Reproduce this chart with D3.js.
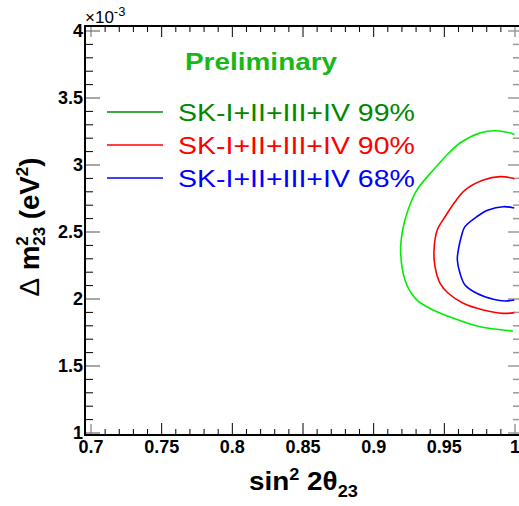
<!DOCTYPE html>
<html>
<head>
<meta charset="utf-8">
<script src="https://cdn.jsdelivr.net/npm/d3@7"></script>
<style>
  html, body { margin: 0; padding: 0; background: #fff; }
  svg { display: block; }
  text { font-family: "Liberation Sans", Arial, Helvetica, sans-serif; }
</style>
</head>
<body>
<div id="chart"></div>
<script>
// ---------- data ----------
const xTicks = [0.7, 0.75, 0.8, 0.85, 0.9, 0.95, 1];
const xTickLabels = ["0.7", "0.75", "0.8", "0.85", "0.9", "0.95", "1"];
const yTicks = [1, 1.5, 2, 2.5, 3, 3.5, 4];
const yTickLabels = ["1", "1.5", "2", "2.5", "3", "3.5", "4"];

const legendLabels = ["SK-I+II+III+IV 99%", "SK-I+II+III+IV 90%", "SK-I+II+III+IV 68%"];

// contour points [sin^2 2theta, dm^2 (1e-3 eV^2)]
const contour99 = [
  [0.9995, 3.225], [0.9988, 3.231], [0.9859, 3.256], [0.9752, 3.239], [0.9611, 3.164],
  [0.9505, 3.060], [0.9411, 2.950], [0.9305, 2.813], [0.9243, 2.664], [0.9205, 2.515],
  [0.9191, 2.343], [0.9229, 2.119], [0.9305, 1.993], [0.9420, 1.918], [0.9561, 1.858],
  [0.9752, 1.793], [0.9986, 1.761]
];
const contour90 = [
  [0.9995, 2.898], [0.9986, 2.901], [0.9894, 2.913], [0.9776, 2.888], [0.9646, 2.813],
  [0.9576, 2.726], [0.9505, 2.614], [0.9450, 2.515], [0.9427, 2.366], [0.9434, 2.241],
  [0.9470, 2.117], [0.9528, 2.043], [0.9634, 1.968], [0.9776, 1.918], [0.9917, 1.893],
  [0.9995, 1.898]
];
const contour68 = [
  [0.9995, 2.679], [0.9988, 2.681], [0.9917, 2.689], [0.9811, 2.664], [0.9729, 2.614],
  [0.9646, 2.540], [0.9623, 2.478], [0.9599, 2.366], [0.9592, 2.291], [0.9611, 2.192],
  [0.9646, 2.105], [0.9729, 2.043], [0.9847, 1.998], [0.9929, 1.985], [0.9995, 1.993]
];

const contours = [contour99, contour90, contour68];
const contourColors = ["#00ee00", "#ff0000", "#0000ff"];
const legendColors = ["#008800", "#ff0000", "#0000ff"];

// ---------- layout ----------
const W = 519, H = 506;
const svg = d3.select("#chart").append("svg").attr("width", W).attr("height", H);
svg.append("rect").attr("width", W).attr("height", H).attr("fill", "#fff");

const x = d3.scaleLinear().domain([0.7, 1]).range([91, 515]);
const y = d3.scaleLinear().domain([1, 4]).range([433, 31]);

const axL = 85, axT = 26, axB = 435, axR = 519;

// minor tick values
const xMinor = d3.range(0, 31).map(i => 0.7 + i * 0.01).filter(v => Math.abs(Math.round(v * 20) - v * 20) > 1e-6);
const yMinor = d3.range(0, 31).map(i => 1 + i * 0.1).filter(v => Math.abs(Math.round(v * 2) - v * 2) > 1e-6);

const g = svg.append("g");

// gray frame ticks (right side + corners)
const gray = "#9a9a9a";
g.selectAll(".rmaj").data(yTicks).enter().append("line")
  .attr("x1", axR - 11).attr("x2", axR).attr("y1", d => y(d)).attr("y2", d => y(d))
  .attr("stroke", gray).attr("stroke-width", 1.5);
g.selectAll(".rmin").data(yMinor).enter().append("line")
  .attr("x1", axR - 6).attr("x2", axR).attr("y1", d => y(d)).attr("y2", d => y(d))
  .attr("stroke", gray).attr("stroke-width", 1.5);
[0.7, 1].forEach(v => {
  g.append("line").attr("x1", x(v)).attr("x2", x(v)).attr("y1", axT).attr("y2", axT + 11)
    .attr("stroke", gray).attr("stroke-width", 1.5);
  g.append("line").attr("x1", x(v)).attr("x2", x(v)).attr("y1", axB - 11).attr("y2", axB)
    .attr("stroke", gray).attr("stroke-width", 1.5);
});

// black ticks: bottom (pointing up)
g.selectAll(".bmaj").data(xTicks.slice(1, -1)).enter().append("line")
  .attr("x1", d => x(d)).attr("x2", d => x(d)).attr("y1", axB).attr("y2", axB - 12)
  .attr("stroke", "#000").attr("stroke-width", 1);
g.selectAll(".bmin").data(xMinor).enter().append("line")
  .attr("x1", d => x(d)).attr("x2", d => x(d)).attr("y1", axB).attr("y2", axB - 6)
  .attr("stroke", "#000").attr("stroke-width", 1);
// top (pointing down)
g.selectAll(".tmaj").data(xTicks.slice(1, -1)).enter().append("line")
  .attr("x1", d => x(d)).attr("x2", d => x(d)).attr("y1", axT).attr("y2", axT + 11)
  .attr("stroke", "#000").attr("stroke-width", 1);
g.selectAll(".tmin").data(xMinor).enter().append("line")
  .attr("x1", d => x(d)).attr("x2", d => x(d)).attr("y1", axT).attr("y2", axT + 6)
  .attr("stroke", "#000").attr("stroke-width", 1);
// left (pointing right)
g.selectAll(".lmaj").data(yTicks).enter().append("line")
  .attr("x1", axL).attr("x2", axL + 15).attr("y1", d => y(d)).attr("y2", d => y(d))
  .attr("stroke", "#777").attr("stroke-width", 1.3);
g.selectAll(".lmin").data(yMinor).enter().append("line")
  .attr("x1", axL).attr("x2", axL + 8).attr("y1", d => y(d)).attr("y2", d => y(d))
  .attr("stroke", "#000").attr("stroke-width", 1);

// axis lines
g.append("line").attr("x1", axL).attr("x2", axL).attr("y1", axT - 1).attr("y2", axB + 1)
  .attr("stroke", "#000").attr("stroke-width", 2);
g.append("line").attr("x1", axL - 1).attr("x2", axR).attr("y1", axB).attr("y2", axB)
  .attr("stroke", "#000").attr("stroke-width", 2);
g.append("line").attr("x1", axL - 1).attr("x2", axR).attr("y1", axT).attr("y2", axT)
  .attr("stroke", "#000").attr("stroke-width", 2);

// tick labels
g.selectAll(".xl").data(xTicks).enter().append("text")
  .attr("x", d => x(d)).attr("y", 453).attr("text-anchor", "middle")
  .attr("font-size", 18).attr("font-weight", "bold")
  .text((d, i) => xTickLabels[i]);
g.selectAll(".yl").data(yTicks).enter().append("text")
  .attr("x", 83).attr("y", d => y(d)).attr("dy", "0.36em").attr("text-anchor", "end")
  .attr("font-size", 18).attr("font-weight", "bold")
  .text((d, i) => yTickLabels[i]);

// exponent label
const ex = g.append("text").attr("x", 85).attr("y", 22.5).attr("font-size", 17);
ex.append("tspan").text("×10");
ex.append("tspan").attr("dy", -7).attr("font-size", 13).text("-3");

// helper to stretch text horizontally to a target width
function stretch(sel, x0, targetW) {
  const w = sel.node().getBBox().width;
  const s = targetW / w;
  sel.attr("transform", `translate(${x0},0) scale(${s},1) translate(${-x0},0)`);
}

// contours
const line = d3.line().x(d => x(d[0])).y(d => y(d[1])).curve(d3.curveCatmullRom.alpha(0.5));
const plot = svg.append("g");
contours.forEach((c, i) => {
  plot.append("path").attr("d", line(c)).attr("fill", "none")
    .attr("stroke", contourColors[i]).attr("stroke-width", 1.6);
});

// Preliminary
const pre = svg.append("text").attr("x", 185).attr("y", 70)
  .attr("font-size", 24).attr("font-weight", "bold").attr("fill", "#18b818")
  .text("Preliminary");
stretch(pre, 185, 153);

// legend
const legY = [112, 145, 178];
legendLabels.forEach((lab, i) => {
  svg.append("line").attr("x1", 107).attr("x2", 163).attr("y1", legY[i]).attr("y2", legY[i])
    .attr("stroke", legendColors[i]).attr("stroke-width", 1.5);
  const t = svg.append("text").attr("x", 178).attr("y", legY[i] + 9)
    .attr("font-size", 24).attr("fill", legendColors[i]).text(lab);
  stretch(t, 178, 237);
});

// x title
const xt = svg.append("text").attr("x", 249).attr("y", 490)
  .attr("font-size", 26).attr("font-weight", "bold");
xt.append("tspan").text("sin");
xt.append("tspan").attr("dy", -10).attr("font-size", 17).text("2");
xt.append("tspan").attr("dy", 10).text(" 2θ");
xt.append("tspan").attr("dy", 7).attr("font-size", 17).text("23");
stretch(xt, 249, 109);

// y title (rotated)
const yg = svg.append("g").attr("transform", "translate(39,227) rotate(-90)");
const yt = yg.append("text").attr("x", 0).attr("y", 0).attr("font-size", 28).attr("font-weight", "bold");
yt.append("tspan").attr("font-weight", "normal").text("Δ");
yt.append("tspan").text(" m");
yt.append("tspan").attr("dy", -11).attr("font-size", 17).text("2");
yt.append("tspan").attr("dx", -9.5).attr("dy", 17).attr("font-size", 17).text("23");
yt.append("tspan").attr("dy", -6).text(" (eV");
yt.append("tspan").attr("dy", -11).attr("font-size", 17).text("2");
yt.append("tspan").attr("dy", 11).text(")");
{
  const bb = yt.node().getBBox();
  const s = 139 / bb.width;
  yt.attr("transform", `scale(${s},1) translate(${-bb.x - bb.width / 2},0)`);
}
</script>
</body>
</html>
